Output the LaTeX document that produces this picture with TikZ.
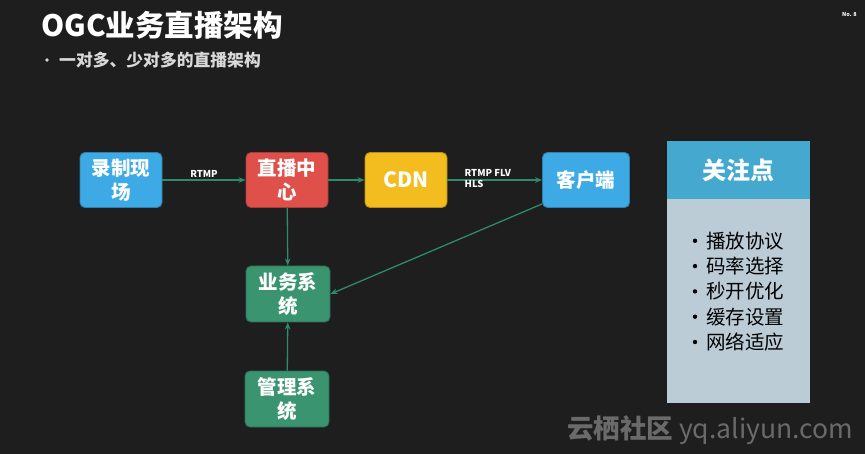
\documentclass[tikz,border=0pt]{standalone}
\usepackage{fontspec}
\setmainfont{Noto Sans CJK SC}
\usetikzlibrary{arrows.meta}

\definecolor{bgdark}{HTML}{1E1E1E}
\definecolor{boxblue}{HTML}{3DAAE6}
\definecolor{boxred}{HTML}{E0504A}
\definecolor{boxyellow}{HTML}{F3BC1F}
\definecolor{boxgreen}{HTML}{3A9470}
\definecolor{linkgreen}{HTML}{2E8A68}
\definecolor{headblue}{HTML}{45A8CF}
\definecolor{bodygray}{HTML}{BCCCD6}
\definecolor{markgray}{HTML}{6A6A6A}

\begin{document}
\begin{tikzpicture}[x=1pt, y=-1pt,
    box/.style={draw=#1!75!black, fill=#1, rounded corners=5pt, line width=0.9pt,
      minimum width=82pt, minimum height=55pt, inner sep=1pt,
      text=white, align=center, font=\fontsize{19.5}{24}\selectfont\bfseries},
    link/.style={draw=linkgreen, line width=1.3pt, -{Stealth[length=7pt,width=5.5pt]}},
    lbl/.style={text=white, font=\fontsize{9.5}{10}\selectfont\bfseries, inner sep=1.5pt}]
  % background
  \fill[bgdark] (0,0) rectangle (865,454);
  % heading
  \node[anchor=west, text=white, font=\fontsize{29.5}{30}\selectfont\bfseries, inner sep=0pt] (title) at (41,25) {OGC业务直播架构};
  \fill[white!85!black] (47,60) circle (1.8pt);
  \node[anchor=west, text=white!85!black, font=\fontsize{16.8}{18}\selectfont\bfseries, inner sep=0pt] (sub) at (59,60) {一对多、少对多的直播架构};
  \node[anchor=east, text=white, font=\fontsize{5.5}{6}\selectfont\bfseries, inner sep=0pt] (pageno) at (857,14) {No. 8};
  % flow
  \node[box=boxblue] (site) at (121,180) {录制现\\场};
  \node[box=boxred] (center) at (287,180) {直播中\\心};
  \node[box=boxyellow, font=\fontsize{21}{24}\selectfont\bfseries] (cdn) at (406,180) {CDN};
  \node[box=boxblue, minimum width=87pt] (client) at (586,180) {客户端};
  \node[box=boxgreen, minimum width=84pt, minimum height=56pt] (biz) at (288,294) {业务系\\统};
  \node[box=boxgreen, minimum width=84pt, minimum height=56pt] (mgmt) at (287,399) {管理系\\统};
  \draw[link] (site) -- (center) node[lbl, midway, above] (rtmp) {RTMP};
  \draw[link] (center) -- (cdn);
  \draw[link] (cdn) -- (client);
  \node[lbl, anchor=west, align=left, font=\fontsize{9.5}{11}\selectfont\bfseries] (proto) at (463,179) {RTMP FLV\\HLS};
  \draw[link] (center) -- (biz);
  \draw[link] ([yshift=4pt]client.south west) -- (biz.east);
  \draw[link] (mgmt) -- (biz);
  % focus panel
  \node[fill=bodygray, minimum width=143pt, minimum height=204pt, inner sep=0pt] (focus) at (738.5,301) {};
  \node[fill=headblue, minimum width=143pt, minimum height=58pt, inner sep=0pt,
    text=white, font=\fontsize{24}{26}\selectfont\bfseries] (focushead) at (738.5,170) {关注点};
  \foreach \txt [count=\i] in {播放协议,码率选择,秒开优化,缓存设置,网络适应} {
    \fill[black] (695,215.5+25.3*\i) circle (2.2pt);
    \node[anchor=west, inner sep=0pt, text=black, font=\fontsize{19.5}{20}\selectfont] (item\i) at (706,215.5+25.3*\i) {\txt};
  }
  % watermark
  \node[anchor=west, inner sep=0pt, text=markgray, font=\fontsize{26.5}{28}\selectfont] (mark) at (567,430) {\textbf{云栖社区} yq.aliyun.com};
\end{tikzpicture}
\end{document}
